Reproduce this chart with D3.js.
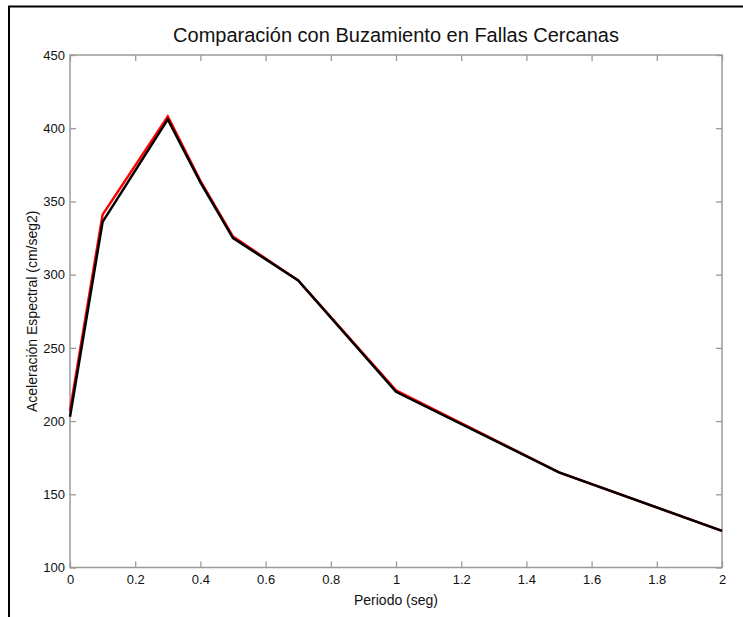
<!DOCTYPE html>
<html>
<head>
<meta charset="utf-8">
<script src="https://cdn.jsdelivr.net/npm/d3@7"></script>
<style>
  html, body { margin: 0; padding: 0; background: #fff; }
  svg { display: block; }
  text { font-family: Arial, "Liberation Sans", Helvetica, sans-serif; }
</style>
</head>
<body>
<svg id="chart" width="743" height="617"></svg>
<script>
const periods = [0, 0.1, 0.3, 0.4, 0.5, 0.7, 1.0, 1.5, 2.0];
const seriesRed = [207, 341, 408, 364, 326, 296, 221, 165, 125];
const seriesBlack = [203, 336, 406, 363, 325, 296, 220, 165, 125];
const xTicks = [0, 0.2, 0.4, 0.6, 0.8, 1, 1.2, 1.4, 1.6, 1.8, 2];
const yTicks = [100, 150, 200, 250, 300, 350, 400, 450];
const titleText = "Comparación con Buzamiento en Fallas Cercanas";
const xLabel = "Periodo (seg)";
const yLabel = "Aceleración Espectral (cm/seg2)";

const svg = d3.select("#chart");
const L = 70, R = 722, T = 55, B = 567.5;

// outer frame (left and top edges)
svg.append("path")
  .attr("d", `M9,617 L9,6.5 L743,6.5`)
  .attr("fill", "none").attr("stroke", "#000").attr("stroke-width", 2);

const x = d3.scaleLinear().domain([0, 2]).range([L, R]);
const y = d3.scaleLinear().domain([100, 450]).range([B, T]);

const axisColor = "#9a9a9a";
const tickLen = 6;

// box
svg.append("rect").attr("x", L).attr("y", T).attr("width", R - L).attr("height", B - T)
  .attr("fill", "none").attr("stroke", axisColor).attr("stroke-width", 1.5);

function styleAxis(g) {
  g.select(".domain").remove();
  g.selectAll(".tick line").attr("stroke", axisColor).attr("stroke-width", 1.3);
  g.selectAll(".tick text").attr("fill", "#111").style("font-size", "13px");
}

// bottom axis (ticks inward)
svg.append("g").attr("transform", `translate(0,${B})`)
  .call(d3.axisBottom(x).tickValues(xTicks).tickFormat(d3.format("~g")).tickSizeInner(-tickLen).tickSizeOuter(0).tickPadding(7))
  .call(styleAxis);
// top axis ticks
svg.append("g").attr("transform", `translate(0,${T})`)
  .call(d3.axisTop(x).tickValues(xTicks).tickFormat("").tickSizeInner(-tickLen).tickSizeOuter(0))
  .call(styleAxis);
// left axis
svg.append("g").attr("transform", `translate(${L},0)`)
  .call(d3.axisLeft(y).tickValues(yTicks).tickSizeInner(-tickLen).tickSizeOuter(0).tickPadding(5))
  .call(styleAxis);
// right axis ticks
svg.append("g").attr("transform", `translate(${R},0)`)
  .call(d3.axisRight(y).tickValues(yTicks).tickFormat("").tickSizeInner(-tickLen).tickSizeOuter(0))
  .call(styleAxis);

// lines
const line = d3.line().x((d, i) => x(periods[i])).y(d => y(d));
svg.append("path").datum(seriesRed).attr("d", line)
  .attr("fill", "none").attr("stroke", "#ff0000").attr("stroke-width", 2.5).attr("stroke-linejoin", "miter");
svg.append("path").datum(seriesBlack).attr("d", line)
  .attr("fill", "none").attr("stroke", "#000").attr("stroke-width", 2.5).attr("stroke-linejoin", "miter");

// title
svg.append("text").attr("x", (L + R) / 2).attr("y", 42).attr("text-anchor", "middle")
  .style("font-size", "20px").attr("fill", "#111").text(titleText);
// x label
svg.append("text").attr("x", (L + R) / 2).attr("y", 605).attr("text-anchor", "middle")
  .style("font-size", "14px").attr("fill", "#111").text(xLabel);
// y label
svg.append("text").attr("transform", `translate(37,${(T + B) / 2}) rotate(-90)`).attr("text-anchor", "middle")
  .style("font-size", "14px").attr("fill", "#111").text(yLabel);
</script>
</body>
</html>
